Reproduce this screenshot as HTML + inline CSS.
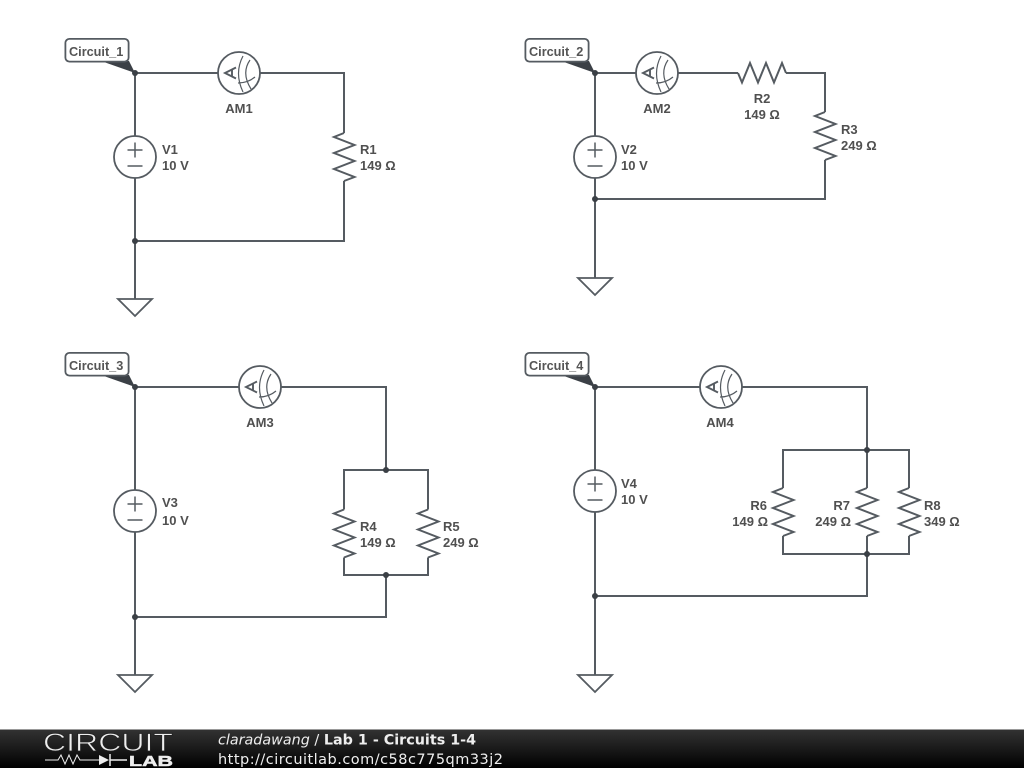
<!DOCTYPE html>
<html>
<head>
<meta charset="utf-8">
<style>
html,body{margin:0;padding:0;background:#fff;width:1024px;height:768px;overflow:hidden}
svg{display:block;position:absolute;left:0;top:0}
.w{fill:none;stroke:#555b61;stroke-width:2}
.t{font:bold 12.7px "Liberation Sans",sans-serif;fill:#555}
.n{font:bold 13px "Liberation Sans",sans-serif;fill:#505050}
</style>
</head>
<body>
<svg width="1024" height="768" viewBox="0 0 1024 768">
<defs>
<linearGradient id="g" x1="0" y1="0" x2="0" y2="1"><stop offset="0" stop-color="#333"/><stop offset=".5" stop-color="#1a1a1a"/><stop offset="1" stop-color="#000"/></linearGradient>
<g id="am"><circle r="21" fill="#fff" stroke="#555b61" stroke-width="1.8"/>
<path d="M-3 -5.500 L-14 0 L-3 5.500 M-7 -3.500 V3.500" fill="none" stroke="#555b61" stroke-width="1.900"/>
<path d="M4 -17 Q-5 0 4 19 M11 -13 Q2 0 12 16 M-1 10 Q9 10 16 4" fill="none" stroke="#555b61" stroke-width="1.200"/></g>
<g id="v"><circle r="21" fill="#fff" stroke="#555b61" stroke-width="1.8"/>
<path d="M-7.500 -7 H7.500 M0 -14.500 V0.500 M-7.500 9 H7.500" fill="none" stroke="#555b61" stroke-width="1.500"/></g>
<g id="r"><rect x="-12" y="-24" width="24" height="48" fill="#fff"/>
<path d="M0 -24 L-10 -20 L10.500 -12 L-10 -4 L10.500 4 L-10 12 L10.500 20 L0 24" fill="none" stroke="#555b61" stroke-width="2"/></g>
<path id="gnd" d="M-17 0 H17 L0 17 Z" fill="#fff" stroke="#555b61" stroke-width="1.800"/>
<circle id="d" r="3" fill="#3b4046"/>
<g id="tag"><path d="M36 22 L64 22 L70 34 Z" fill="#3b4046"/>
<rect x="0.400" y="-0.100" width="63.200" height="22.700" rx="4" fill="#fff" stroke="#555b61" stroke-width="1.800"/></g>
</defs>

<!-- Circuit 1 -->
<path class="w" d="M135 73 H344 V241 H135 M135 73 V299"/>
<use href="#am" x="239" y="73"/><use href="#v" x="135" y="157"/><use href="#r" x="344" y="157"/>
<use href="#gnd" x="135" y="299"/><use href="#d" x="135" y="241"/>
<use href="#tag" x="65" y="39"/><use href="#d" x="135" y="73"/>
<text class="t" x="69" y="56">Circuit_1</text>
<text class="n" x="239" y="113" text-anchor="middle">AM1</text>
<text class="n" x="162" y="154">V1</text><text class="n" x="162" y="170">10 V</text>
<text class="n" x="360" y="154">R1</text><text class="n" x="360" y="170">149 Ω</text>

<!-- Circuit 2 -->
<path class="w" d="M595 73 H825 V199 H595 M595 73 V278"/>
<rect x="738" y="66" width="48" height="14" fill="#fff"/>
<path class="w" d="M738 73 L742 82.500 L750 63 L758 82.500 L766 63 L774 82.500 L782 63 L786 73"/>
<use href="#am" x="657" y="73"/><use href="#v" x="595" y="157"/><use href="#r" x="825" y="136"/>
<use href="#gnd" x="595" y="278"/><use href="#d" x="595" y="199"/>
<use href="#tag" x="525" y="39"/><use href="#d" x="595" y="73"/>
<text class="t" x="529" y="56">Circuit_2</text>
<text class="n" x="657" y="113" text-anchor="middle">AM2</text>
<text class="n" x="762" y="103" text-anchor="middle">R2</text><text class="n" x="762" y="119" text-anchor="middle">149 Ω</text>
<text class="n" x="841" y="134">R3</text><text class="n" x="841" y="150">249 Ω</text>
<text class="n" x="621" y="154">V2</text><text class="n" x="621" y="170">10 V</text>

<!-- Circuit 3 -->
<path class="w" d="M135 387 H386 V470 M344 470 H428 V575 H344 Z M386 575 V617 H135 M135 387 V675"/>
<use href="#am" x="260" y="387"/><use href="#v" x="135" y="511"/>
<use href="#r" x="344" y="533.500"/><use href="#r" x="428" y="533.500"/>
<use href="#gnd" x="135" y="675"/><use href="#d" x="135" y="617"/><use href="#d" x="386" y="470"/><use href="#d" x="386" y="575"/>
<use href="#tag" x="65" y="353"/><use href="#d" x="135" y="387"/>
<text class="t" x="69" y="370">Circuit_3</text>
<text class="n" x="260" y="427" text-anchor="middle">AM3</text>
<text class="n" x="162" y="507">V3</text><text class="n" x="162" y="525">10 V</text>
<text class="n" x="360" y="531">R4</text><text class="n" x="360" y="547">149 Ω</text>
<text class="n" x="443" y="531">R5</text><text class="n" x="443" y="547">249 Ω</text>

<!-- Circuit 4 -->
<path class="w" d="M595 387 H867 V554 M783 450 H909 V554 H783 Z M867 554 V596 H595 M595 387 V675"/>
<use href="#am" x="721" y="387"/><use href="#v" x="595" y="491"/>
<use href="#r" x="783" y="512"/><use href="#r" x="867" y="512"/><use href="#r" x="909" y="512"/>
<use href="#gnd" x="595" y="675"/><use href="#d" x="595" y="596"/><use href="#d" x="867" y="450"/><use href="#d" x="867" y="554"/>
<use href="#tag" x="525" y="353"/><use href="#d" x="595" y="387"/>
<text class="t" x="529" y="370">Circuit_4</text>
<text class="n" x="720" y="427" text-anchor="middle">AM4</text>
<text class="n" x="621" y="488">V4</text><text class="n" x="621" y="504">10 V</text>
<text class="n" x="767" y="510" text-anchor="end">R6</text><text class="n" x="768" y="526" text-anchor="end">149 Ω</text>
<text class="n" x="850" y="510" text-anchor="end">R7</text><text class="n" x="851" y="526" text-anchor="end">249 Ω</text>
<text class="n" x="924" y="510">R8</text><text class="n" x="924" y="526">349 Ω</text>

<!-- Footer -->
<rect x="0" y="729" width="1024" height="39" fill="url(#g)"/>
<rect x="0" y="729" width="1024" height="1" fill="#999"/>
<text x="43" y="751" font-family="Liberation Sans,sans-serif" font-size="25" fill="#eee" stroke="#222" stroke-width="0.700" paint-order="fill stroke" textLength="130" lengthAdjust="spacingAndGlyphs">CIRCUIT</text>
<path d="M45 760 H58 L61 755 L65 764 L69 755 L73 764 L77 755 L80 760 H99" fill="none" stroke="#eee" stroke-width="1"/>
<path d="M99 755 L109 760 L99 765 Z" fill="#eee"/>
<path d="M110 754 V766 M110 760 H127" stroke="#eee" stroke-width="1.500" fill="none"/>
<text x="129" y="766" font-family="Liberation Sans,sans-serif" font-size="14.500" font-weight="bold" fill="#eee" stroke="#eee" stroke-width=".5" textLength="44" lengthAdjust="spacingAndGlyphs">LAB</text>
<text x="218" y="744.500" font-family="DejaVu Sans,sans-serif" font-size="14.330" fill="#eee"><tspan font-style="italic">claradawang</tspan> / <tspan font-weight="bold">Lab 1 - Circuits 1-4</tspan></text>
<text x="218" y="764" font-family="DejaVu Sans,sans-serif" font-size="14.500" fill="#eee" textLength="285">http://circuitlab.com/c58c775qm33j2</text>
</svg>
</body>
</html>
